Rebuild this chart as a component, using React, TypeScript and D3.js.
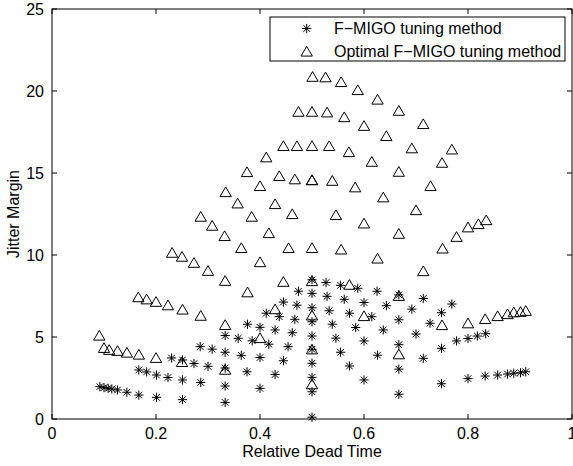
import React from "react";
import * as d3 from "d3";

const X_TICKS = [0, 0.2, 0.4, 0.6, 0.8, 1];
const Y_TICKS = [0, 5, 10, 15, 20, 25];
const X_LABEL = "Relative Dead Time";
const Y_LABEL = "Jitter Margin";
const SERIES_NAMES = ["F\u2212MIGO tuning method", "Optimal F\u2212MIGO tuning method"];

// F-MIGO tuning method (stars)
const starX = [
  0.092, 0.100, 0.108, 0.115, 0.126, 0.144, 0.167, 0.201, 0.251, 0.333,
  0.167, 0.182, 0.201, 0.223, 0.251, 0.286, 0.333,
  0.230, 0.251, 0.273, 0.300, 0.333,
  0.285, 0.308, 0.333, 0.333,
  0.358, 0.364, 0.376, 0.375, 0.385, 0.400, 0.400, 0.400, 0.412, 0.417,
  0.429, 0.429, 0.437, 0.445, 0.445, 0.454, 0.462, 0.467, 0.471, 0.474,
  0.500, 0.500, 0.500, 0.500, 0.500, 0.500, 0.500, 0.500, 0.500, 0.500,
  0.527, 0.529, 0.533, 0.539, 0.546, 0.555, 0.555, 0.562, 0.572, 0.572,
  0.584, 0.588, 0.600, 0.600, 0.600, 0.615, 0.625, 0.626, 0.637, 0.643,
  0.667, 0.667, 0.667, 0.667, 0.667, 0.692, 0.700, 0.714, 0.714, 0.727,
  0.749, 0.749, 0.749, 0.769, 0.778, 0.800, 0.818, 0.834,
  0.800, 0.833, 0.857, 0.876, 0.888, 0.901, 0.911,
];
const starY = [
  1.97, 1.91, 1.87, 1.83, 1.77, 1.63, 1.46, 1.32, 1.18, 1.01,
  2.99, 2.87, 2.68, 2.53, 2.38, 2.23, 2.01,
  3.72, 3.60, 3.38, 3.21, 3.11,
  4.41, 4.26, 4.07, 5.09,
  4.92, 3.88, 5.78, 2.88, 4.77, 5.59, 3.75, 1.87, 6.45, 4.56,
  5.43, 2.71, 6.24, 7.13, 3.55, 4.41, 5.26, 6.08, 6.94, 7.79,
  8.49, 7.66, 6.78, 5.93, 5.06, 4.25, 3.40, 2.54, 1.66, 0.11,
  8.32, 7.48, 6.60, 5.78, 4.93, 8.15, 4.07, 7.30, 6.45, 3.23,
  5.58, 7.97, 7.10, 4.76, 2.38, 6.24, 7.79, 3.89, 5.43, 6.91,
  7.57, 6.05, 4.53, 3.04, 1.51, 6.70, 5.18, 7.35, 3.70, 5.84,
  6.48, 4.31, 2.15, 7.01, 4.76, 4.91, 5.06, 5.20,
  2.46, 2.62, 2.68, 2.74, 2.79, 2.82, 2.88,
];

// Optimal F-MIGO tuning method (triangles)
const triX = [
  0.501, 0.526, 0.556, 0.588, 0.626, 0.667, 0.714, 0.769,
  0.474, 0.500, 0.529, 0.562, 0.600, 0.643, 0.692, 0.750,
  0.445, 0.471, 0.500, 0.533, 0.571, 0.615, 0.667, 0.728,
  0.412, 0.375, 0.437, 0.467, 0.500, 0.500, 0.539, 0.583, 0.637, 0.700,
  0.400, 0.334, 0.357, 0.429, 0.462, 0.546, 0.600, 0.667,
  0.384, 0.308, 0.286, 0.332, 0.417,
  0.364, 0.455, 0.500, 0.556, 0.626,
  0.751, 0.778, 0.800, 0.820, 0.835,
  0.400, 0.714,
  0.231, 0.250, 0.273, 0.300, 0.333, 0.376, 0.445, 0.500, 0.572, 0.667,
  0.429, 0.500, 0.600,
  0.750, 0.800, 0.833, 0.857, 0.876, 0.888, 0.901, 0.911,
  0.166, 0.182, 0.200, 0.223, 0.251, 0.286, 0.333, 0.400, 0.500, 0.667,
  0.091, 0.100, 0.110, 0.126, 0.144, 0.167, 0.200, 0.250, 0.333, 0.500,
];
const triY = [
  20.87, 20.84, 20.55, 20.06, 19.48, 18.80, 17.99, 16.44,
  18.74, 18.74, 18.70, 18.41, 17.88, 17.26, 16.51, 15.63,
  16.65, 16.65, 16.65, 16.65, 16.28, 15.69, 15.08, 14.21,
  15.96, 15.06, 14.82, 14.62, 14.57, 14.57, 14.53, 14.13, 13.52, 12.74,
  14.21, 13.84, 13.15, 13.11, 12.50, 12.44, 11.93, 11.30,
  12.34, 11.79, 12.34, 11.16, 11.34,
  10.43, 10.43, 10.43, 10.34, 9.79,
  10.40, 11.11, 11.69, 11.89, 12.13,
  9.57, 9.02,
  10.14, 9.90, 9.53, 9.04, 8.43, 7.73, 8.37, 8.41, 8.19, 7.51,
  6.70, 6.32, 6.28,
  5.73, 5.84, 6.10, 6.28, 6.40, 6.51, 6.54, 6.60,
  7.43, 7.30, 7.15, 6.94, 6.68, 6.30, 5.74, 4.94, 4.25, 3.95,
  5.09, 4.34, 4.22, 4.16, 4.05, 3.93, 3.73, 3.48, 3.01, 2.12,
];

const W = 573;
const H = 466;
const FONT = "'Liberation Sans', Arial, Helvetica, sans-serif";

function starPath(cx: number, cy: number, r: number) {
  const d = r * 0.72;
  return `M${cx - r},${cy}H${cx + r}M${cx},${cy - r}V${cy + r}` +
    `M${cx - d},${cy - d}L${cx + d},${cy + d}M${cx - d},${cy + d}L${cx + d},${cy - d}`;
}
function triPath(cx: number, cy: number, r: number) {
  return `M${cx},${cy - r * 0.95}L${cx + r * 1.05},${cy + r * 0.85}L${cx - r * 1.05},${cy + r * 0.85}Z`;
}

export default function App() {
  const x = d3.scaleLinear().domain([0, 1]).range([52, 572]);
  const y = d3.scaleLinear().domain([0, 25]).range([419, 9]);
  const [x0, x1] = x.range();
  const [y0, y1] = y.range();
  const tick = 5;

  const stars = starX.map((v, i) => starPath(x(v), y(starY[i]), 4.6)).join("");
  const tris = triX.map((v, i) => triPath(x(v), y(triY[i]), 5.4)).join("");

  const lx = 270, ly = 17, lw = 295, lh = 44;

  return (
    <svg width={W} height={H} style={{ position: "absolute", left: 0, top: 0, background: "#fff" }}
      fontFamily={FONT}>
      <rect x={0} y={0} width={W} height={H} fill="#fff" />
      {/* markers */}
      <path d={tris} fill="none" stroke="#000" strokeWidth={1} />
      <path d={stars} fill="none" stroke="#000" strokeWidth={1} />
      {/* box */}
      <rect x={x0} y={y1} width={x1 - x0} height={y0 - y1} fill="none" stroke="#000" strokeWidth={1} />
      {X_TICKS.map((t) => (
        <g key={"xt" + t}>
          <line x1={x(t)} x2={x(t)} y1={y0} y2={y0 - tick} stroke="#000" />
          <line x1={x(t)} x2={x(t)} y1={y1} y2={y1 + tick} stroke="#000" />
          <text x={x(t)} y={y0 + 20} textAnchor="middle" fontSize={16}>{String(t)}</text>
        </g>
      ))}
      {Y_TICKS.map((t) => (
        <g key={"yt" + t}>
          <line x1={x0} x2={x0 + tick} y1={y(t)} y2={y(t)} stroke="#000" />
          <line x1={x1} x2={x1 - tick} y1={y(t)} y2={y(t)} stroke="#000" />
          <text x={x0 - 8} y={y(t)} dy="0.36em" textAnchor="end" fontSize={16}>{String(t)}</text>
        </g>
      ))}
      <text x={(x0 + x1) / 2} y={y0 + 38} textAnchor="middle" fontSize={16}>{X_LABEL}</text>
      <text transform={`translate(19,${(y0 + y1) / 2}) rotate(-90)`} textAnchor="middle" fontSize={16}>{Y_LABEL}</text>
      {/* legend */}
      <rect x={lx} y={ly} width={lw} height={lh} fill="#fff" stroke="#000" strokeWidth={1} />
      <path d={starPath(306.7, 28.5, 4.6)} fill="none" stroke="#000" />
      <path d={triPath(306.7, 51.5, 5.4)} fill="none" stroke="#000" />
      <text x={334} y={28.5} dy="0.36em" fontSize={16}>{SERIES_NAMES[0]}</text>
      <text x={334} y={51.5} dy="0.36em" fontSize={16}>{SERIES_NAMES[1]}</text>
    </svg>
  );
}
